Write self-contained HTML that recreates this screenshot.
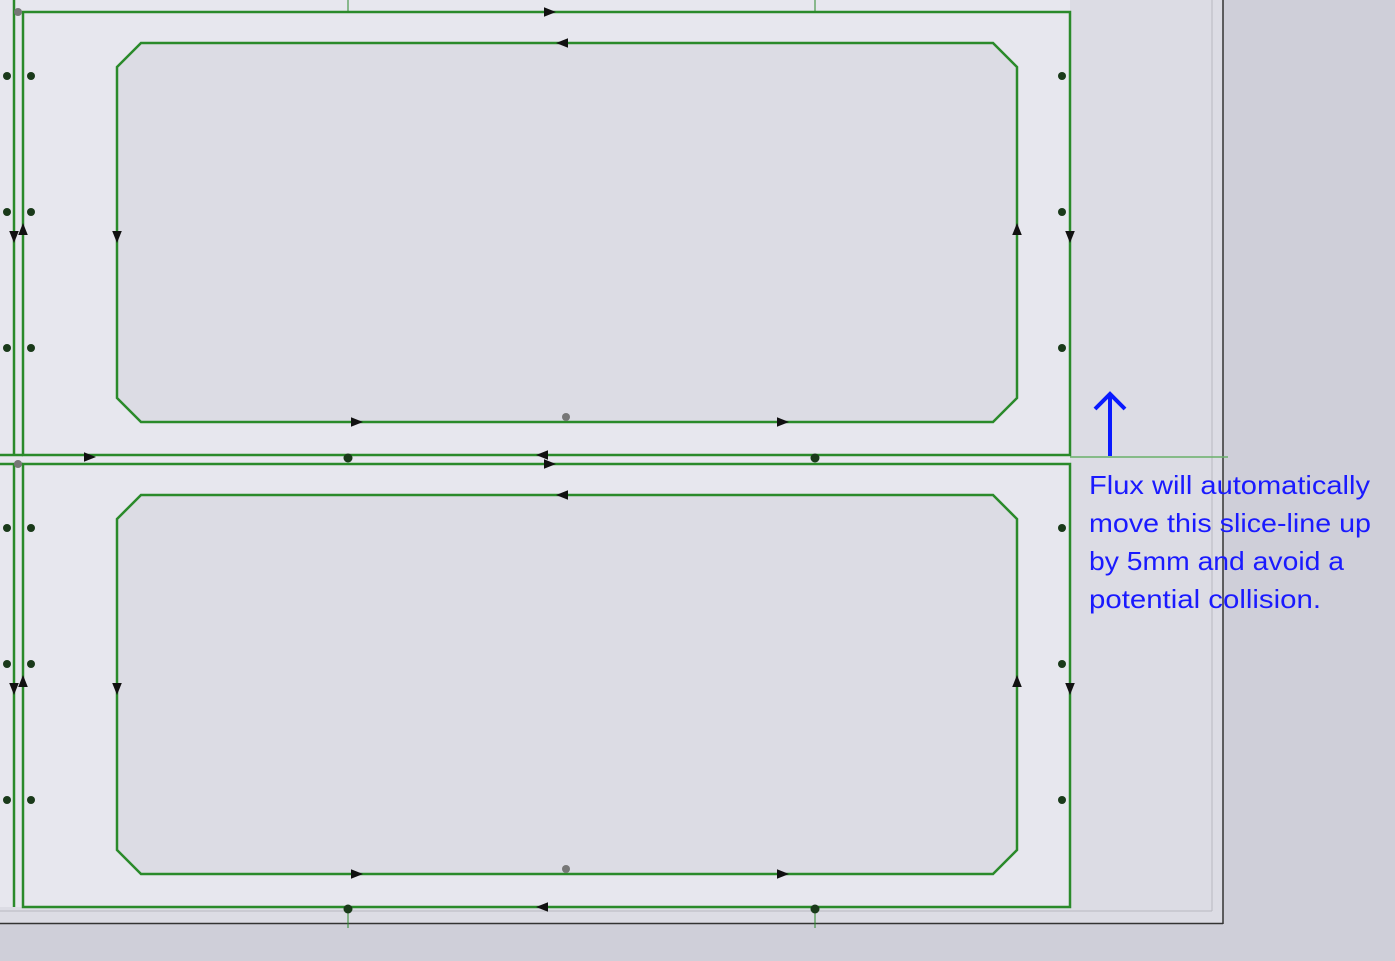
<!DOCTYPE html>
<html><head><style>
body{margin:0;width:1395px;height:961px;background:#cfcfd9;overflow:hidden;font-family:"Liberation Sans",sans-serif}
</style></head><body>
<svg width="1395" height="961" xmlns="http://www.w3.org/2000/svg" style="position:absolute;left:0;top:0">
<defs>
<marker id="a" viewBox="0 0 10 10" refX="5" refY="5" markerWidth="12" markerHeight="12" orient="auto" markerUnits="userSpaceOnUse"><path d="M0,1 L10,5 L0,9z" fill="#111"/></marker>
</defs>
<rect x="0" y="0" width="1223" height="923" fill="#dcdce4"/>
<line x1="1223" y1="0" x2="1223" y2="924" stroke="#333" stroke-width="1.5"/>
<line x1="0" y1="923.5" x2="1223" y2="923.5" stroke="#333" stroke-width="1.5"/>
<line x1="1212" y1="0" x2="1212" y2="911" stroke="#b8b8c0" stroke-width="1"/>
<line x1="0" y1="911" x2="1212" y2="911" stroke="#b8b8c0" stroke-width="1"/>
<rect x="0" y="0" width="1070" height="907" fill="#e7e7ee"/>
<g stroke="#2a8a2a" stroke-width="2.5" fill="none">
<rect x="23" y="12" width="1047" height="443"/>
<rect x="23" y="464" width="1047" height="443"/>
<line x1="14" y1="0" x2="14" y2="455"/><line x1="14" y1="464" x2="14" y2="907"/>
<line x1="0" y1="455" x2="23" y2="455"/><line x1="0" y1="464" x2="23" y2="464"/>
<line x1="348" y1="0" x2="348" y2="12" stroke-width="1"/><line x1="815" y1="0" x2="815" y2="12" stroke-width="1"/>
<line x1="348" y1="907" x2="348" y2="928" stroke-width="1"/><line x1="815" y1="907" x2="815" y2="928" stroke-width="1"/>
<path d="M141,43 H993 L1017,67 V398 L993,422 H141 L117,398 V67Z" fill="#dcdce4"/>
<path d="M141,495 H993 L1017,519 V850 L993,874 H141 L117,850 V519Z" fill="#dcdce4"/>
</g>
<line x1="1070" y1="457" x2="1228" y2="457" stroke="#6ab06a" stroke-width="1.5"/>
<g fill="#1a3a1a">
<circle cx="7" cy="76" r="4"/><circle cx="31" cy="76" r="4"/><circle cx="7" cy="212" r="4"/><circle cx="31" cy="212" r="4"/><circle cx="7" cy="348" r="4"/><circle cx="31" cy="348" r="4"/>
<circle cx="7" cy="528" r="4"/><circle cx="31" cy="528" r="4"/><circle cx="7" cy="664" r="4"/><circle cx="31" cy="664" r="4"/><circle cx="7" cy="800" r="4"/><circle cx="31" cy="800" r="4"/>
<circle cx="1062" cy="76" r="4"/><circle cx="1062" cy="212" r="4"/><circle cx="1062" cy="348" r="4"/>
<circle cx="1062" cy="528" r="4"/><circle cx="1062" cy="664" r="4"/><circle cx="1062" cy="800" r="4"/>
<circle cx="348" cy="458" r="4.5"/><circle cx="815" cy="458" r="4.5"/><circle cx="348" cy="909" r="4.5"/><circle cx="815" cy="909" r="4.5"/>
</g>
<g fill="#777"><circle cx="566" cy="417" r="4"/><circle cx="566" cy="869" r="4"/><circle cx="18" cy="12" r="4"/><circle cx="18" cy="464" r="4"/></g>
<g stroke="none" fill="none">
<path d="M540,12 L550,12" marker-end="url(#a)"/>
<path d="M572,43 L562,43" marker-end="url(#a)"/>
<path d="M347,422 L357,422" marker-end="url(#a)"/><path d="M773,422 L783,422" marker-end="url(#a)"/>
<path d="M117,227 L117,237" marker-end="url(#a)"/><path d="M1017,239 L1017,229" marker-end="url(#a)"/>
<path d="M1070,227 L1070,237" marker-end="url(#a)"/><path d="M14,227 L14,237" marker-end="url(#a)"/><path d="M23,239 L23,229" marker-end="url(#a)"/>
<path d="M80,457 L90,457" marker-end="url(#a)"/><path d="M552,455 L542,455" marker-end="url(#a)"/><path d="M540,464 L550,464" marker-end="url(#a)"/>
<path d="M572,495 L562,495" marker-end="url(#a)"/>
<path d="M347,874 L357,874" marker-end="url(#a)"/><path d="M773,874 L783,874" marker-end="url(#a)"/>
<path d="M117,679 L117,689" marker-end="url(#a)"/><path d="M1017,691 L1017,681" marker-end="url(#a)"/>
<path d="M1070,679 L1070,689" marker-end="url(#a)"/><path d="M14,679 L14,689" marker-end="url(#a)"/><path d="M23,691 L23,681" marker-end="url(#a)"/>
<path d="M552,907 L542,907" marker-end="url(#a)"/>
</g>
<g stroke="#0a1aff" stroke-width="4" fill="none">
<line x1="1110" y1="456" x2="1110" y2="394"/>
<path d="M1095,409 L1110,394 L1125,409"/>
</g>
<g fill="#1a1aff" font-size="26" font-family="'Liberation Sans',sans-serif">
<text x="1089" y="494" textLength="281" lengthAdjust="spacingAndGlyphs">Flux will automatically</text>
<text x="1089" y="532" textLength="282" lengthAdjust="spacingAndGlyphs">move this slice-line up</text>
<text x="1089" y="570" textLength="255" lengthAdjust="spacingAndGlyphs">by 5mm and avoid a</text>
<text x="1089" y="608" textLength="232" lengthAdjust="spacingAndGlyphs">potential collision.</text>
</g>
</svg>
</body></html>
